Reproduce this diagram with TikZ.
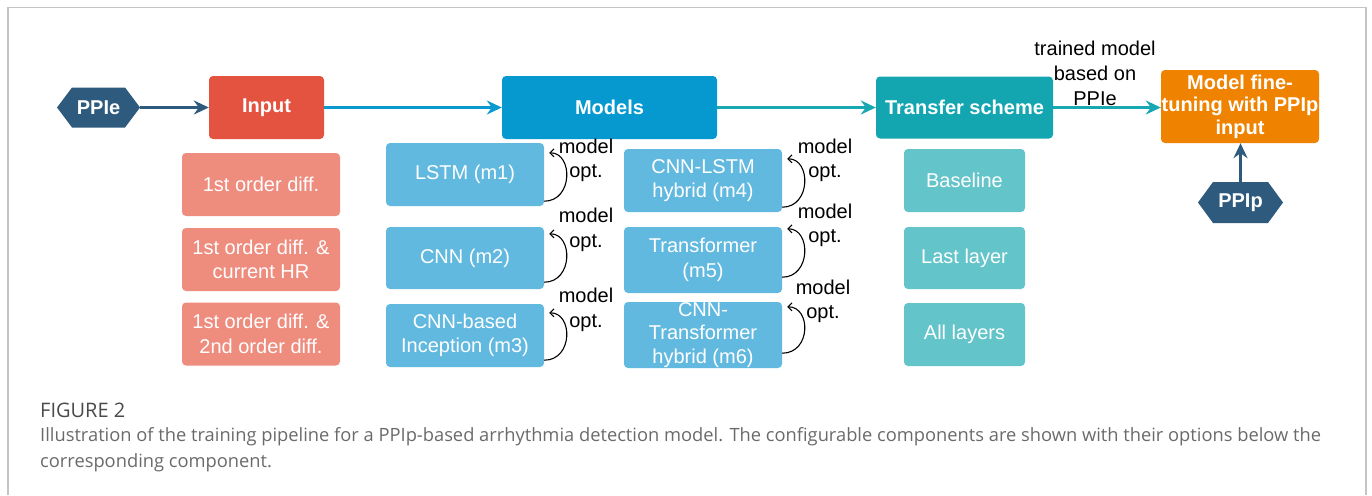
\documentclass[tikz,border=0pt]{standalone}
\usepackage{fontspec}
\setmainfont{Liberation Sans}
\newfontfamily\capfont{Open Sans}
\usetikzlibrary{arrows.meta}

\definecolor{hexc}{HTML}{2E5B7D}
\definecolor{inred}{HTML}{E4533F}
\definecolor{inopt}{HTML}{EE8C7E}
\definecolor{modblue}{HTML}{0699D0}
\definecolor{modopt}{HTML}{62B9E0}
\definecolor{trteal}{HTML}{14A6B0}
\definecolor{tropt}{HTML}{63C4C9}
\definecolor{fineor}{HTML}{EF8300}
\definecolor{arrteal}{HTML}{17A8B2}
\definecolor{arrblue}{HTML}{0A9AD0}
\definecolor{framec}{HTML}{C4C4C4}
\definecolor{capdark}{HTML}{4A4A4A}
\definecolor{captext}{HTML}{6A6A6A}

\tikzset{
  every node/.style={font=\fontsize{20}{24.5}\selectfont},
  box/.style={rounded corners=4pt, inner sep=0pt, align=center, text=white},
  mainbox/.style={box, font=\fontsize{20}{22.5}\selectfont\bfseries},
  hexa/.style={minimum width=#1, minimum height=40pt, inner sep=0pt, text=white,
    font=\fontsize{20}{24}\selectfont\bfseries,
    path picture={\fill[hexc]
      (path picture bounding box.west)
      -- ([xshift=15pt]path picture bounding box.north west)
      -- ([xshift=-15pt]path picture bounding box.north east)
      -- (path picture bounding box.east)
      -- ([xshift=-15pt]path picture bounding box.south east)
      -- ([xshift=15pt]path picture bounding box.south west) -- cycle;}},
  flow/.style={line width=2.6pt, -{Stealth[length=15pt,width=14pt,inset=5pt]}},
  optloop/.style={line width=1.1pt, black, -{Straight Barb[length=4pt,width=8pt]}},
  optlbl/.style={align=center, inner sep=0pt}
}

\begin{document}
\begin{tikzpicture}[x=1pt, y=-1pt]
\useasboundingbox (0,0) rectangle (1372,495);

% open frame around the figure
\draw[framec, line width=1.5pt] (8,495) -- (8,7.5) -- (1366,7.5) -- (1366,495);

% pipeline components
\node[hexa=83pt] (ppie) at (98.5,107.5) {PPIe};
\node[mainbox, fill=inred, minimum width=115pt, minimum height=63pt] (input) at (266.5,107.5) {Input};
\node[mainbox, fill=modblue, minimum width=215pt, minimum height=63pt] (models) at (609.5,107.5) {Models};
\node[mainbox, fill=trteal, minimum width=177pt, minimum height=62pt] (transfer) at (964.5,107.5) {Transfer scheme};
\node[mainbox, fill=fineor, minimum width=158pt, minimum height=73pt] (fine) at (1240,106.5) {Model fine-\\tuning with PPIp\\input};
\node[hexa=85pt, minimum height=41pt] (ppip) at (1240.5,202.5) {PPIp};

% input options
\node[box, fill=inopt, minimum width=158pt, minimum height=63pt] (i1) at (261,184.5) {1st order diff.};
\node[box, fill=inopt, minimum width=158pt, minimum height=63pt] (i2) at (261,259.5) {1st order diff. \&\\current HR};
\node[box, fill=inopt, minimum width=158pt, minimum height=63pt] (i3) at (261,334) {1st order diff. \&\\2nd order diff.};

% model options
\node[box, fill=modopt, minimum width=158pt, minimum height=63pt] (m1) at (465,174.5) {LSTM (m1)};
\node[box, fill=modopt, minimum width=158pt, minimum height=62pt] (m2) at (465,258) {CNN (m2)};
\node[box, fill=modopt, minimum width=158pt, minimum height=63pt] (m3) at (465,335.5) {CNN-based\\Inception (m3)};
\node[box, fill=modopt, minimum width=158pt, minimum height=63pt] (m4) at (703,180.5) {CNN-LSTM\\hybrid (m4)};
\node[box, fill=modopt, minimum width=158pt, minimum height=66pt] (m5) at (703,260) {Transformer\\(m5)};
\node[box, fill=modopt, minimum width=158pt, minimum height=66pt, font=\fontsize{20}{23.5}\selectfont] (m6) at (703,335) {CNN-\\Transformer\\hybrid (m6)};

% transfer options
\node[box, fill=tropt, minimum width=121pt, minimum height=63pt] (t1) at (964.5,180.5) {Baseline};
\node[box, fill=tropt, minimum width=121pt, minimum height=62pt] (t2) at (964.5,258) {Last layer};
\node[box, fill=tropt, minimum width=121pt, minimum height=63pt] (t3) at (964.5,334.5) {All layers};

% main flow
\draw[flow, hexc] (ppie.east) -- (input.west);
\draw[flow, arrblue] (input.east) -- (models.west);
\draw[flow, arrteal] (models.east) -- (transfer.west);
\draw[flow, arrteal] (transfer.east) -- (fine.west |- transfer.east);
\draw[flow, hexc] (ppip.north) -- (fine.south -| ppip.north);
\node[align=center, inner sep=0pt, font=\fontsize{20}{25}\selectfont] (trained) at (1095,73) {trained model\\based on\\PPIe};

% model optimisation loops
\draw[optloop] ([yshift=5pt]m1.south east) .. controls +(29,0) and +(24,0) .. ([xshift=5pt,yshift=-10pt]m1.north east);
\draw[optloop] ([yshift=7pt]m2.south east) .. controls +(29,0) and +(24,0) .. ([xshift=5pt,yshift=-7pt]m2.north east);
\draw[optloop] ([yshift=7pt]m3.south east) .. controls +(29,0) and +(24,0) .. ([xshift=5pt,yshift=-9pt]m3.north east);
\draw[optloop] ([yshift=5pt]m4.south east) .. controls +(29,0) and +(24,0) .. ([xshift=5pt,yshift=-10pt]m4.north east);
\draw[optloop] ([yshift=16pt]m5.south east) .. controls +(29,0) and +(24,0) .. ([xshift=5pt,yshift=-2pt]m5.north east);
\draw[optloop] ([yshift=15pt]m6.south east) .. controls +(29,0) and +(24,0) .. ([xshift=5pt,yshift=-5pt]m6.north east);
\node[optlbl] (l1) at (586,160.5) {model\\opt.};
\node[optlbl] (l2) at (586,230) {model\\opt.};
\node[optlbl] (l3) at (586,310) {model\\opt.};
\node[optlbl] (l4) at (825,160.5) {model\\opt.};
\node[optlbl] (l5) at (825,225.5) {model\\opt.};
\node[optlbl] (l6) at (823,301.5) {model\\opt.};

% caption
\node[anchor=west, inner sep=0pt, text=capdark, font=\capfont\fontsize{20}{24}\selectfont] (capt) at (40,410) {FIGURE 2};
\node[anchor=west, inner sep=0pt, align=left, text=captext, font=\capfont\fontsize{18.3}{26}\selectfont] (capb) at (40,450)
  {Illustration of the training pipeline for a PPIp-based arrhythmia detection model. The configurable components are shown with their options below the\\corresponding component.};
\end{tikzpicture}
\end{document}
